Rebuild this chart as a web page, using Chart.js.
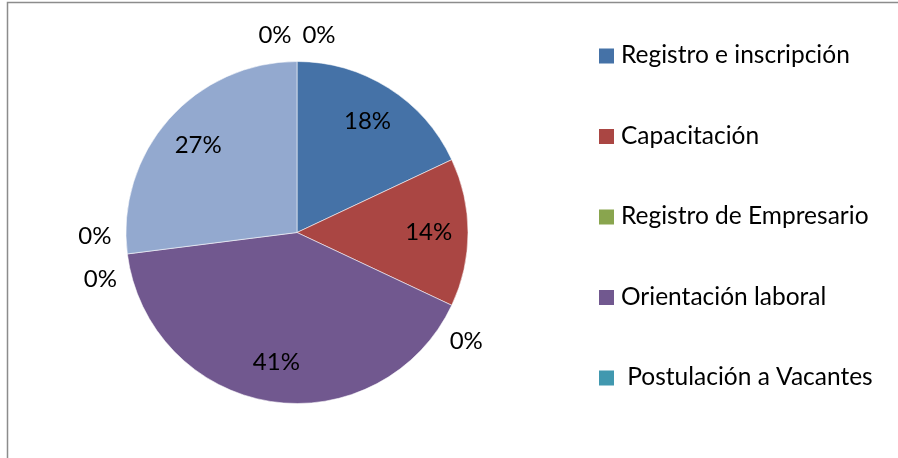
<!DOCTYPE html>
<html>
<head>
<meta charset="utf-8">
<script src="https://cdn.jsdelivr.net/npm/chart.js@4/dist/chart.umd.min.js"></script>
<style>
  html, body { margin: 0; padding: 0; background: #fff; }
  #wrap { position: relative; width: 898px; height: 458px; }
</style>
</head>
<body>
<div id="wrap"><canvas id="pie" width="898" height="458"></canvas></div>
<script>
// categories (only the first five show up in the legend of the original)
const categories = [
  "Registro e inscripción",
  "Capacitación",
  "Registro de Empresario",
  "Orientación laboral",
  " Postulación a Vacantes",
  "Categoría 6",
  "Categoría 7",
  "Categoría 8",
  "Categoría 9"
];
// percentages per category
const percents = [18, 14, 0, 41, 0, 0, 27, 0, 0];
const legendCount = 5;

// office 2007 palette
const sliceColors = ["#4572A7", "#AA4643", "#89A54E", "#71588F", "#4198AF", "#DB843D", "#93A9CF", "#D19392", "#B9CD96"];

const FONT = "24px Lato, 'Open Sans', sans-serif";
const LEGEND_FONT = "24.5px Lato, 'Open Sans', sans-serif";

// frame, legend and percentage labels
const decorations = {
  id: "decorations",
  beforeDraw(chart) {
    const ctx = chart.ctx;
    ctx.save();
    ctx.strokeStyle = "#8c8c8c";
    ctx.lineWidth = 1.5;
    ctx.beginPath();
    ctx.moveTo(7.5, 458);
    ctx.lineTo(7.5, 2.5);
    ctx.lineTo(898, 2.5);
    ctx.stroke();
    ctx.restore();
  },
  afterDraw(chart) {
    const ctx = chart.ctx;
    const arcs = chart.getDatasetMeta(0).data;
    ctx.save();
    ctx.font = FONT;
    ctx.fillStyle = "#000";
    ctx.textAlign = "center";
    ctx.textBaseline = "middle";

    // group zero slices that sit on the same angle so they don't overlap
    const groups = [];
    arcs.forEach((arc, i) => {
      const v = percents[i];
      const mid = (arc.startAngle + arc.endAngle) / 2;
      if (v > 0) {
        const r = arc.outerRadius * 0.77;
        ctx.fillText(v + "%", arc.x + Math.cos(mid) * r, arc.y + Math.sin(mid) * r);
      } else {
        const last = groups[groups.length - 1];
        if (last && Math.abs(last.angle - arc.startAngle) < 1e-6) last.items.push(i);
        else groups.push({ angle: arc.startAngle, items: [i], arc: arc });
      }
    });
    groups.forEach(g => {
      const arc = g.arc;
      const n = g.items.length;
      // lone labels get nudged a bit clockwise, away from the previous slice
      const a = n === 1 ? g.angle + 0.13 : g.angle;
      const r = arc.outerRadius + 30;
      const bx = arc.x + Math.cos(a) * r, by = arc.y + Math.sin(a) * r;
      const tx = -Math.sin(a), ty = Math.cos(a);
      g.items.forEach((idx, k) => {
        const off = (k - (n - 1) / 2) * 44;
        ctx.fillText(percents[idx] + "%", bx - tx * off, by - ty * off + (n > 1 && Math.abs(ty) < 0.2 ? 4 : 0));
      });
    });

    // legend
    ctx.textAlign = "left";
    ctx.font = LEGEND_FONT;
    for (let i = 0; i < legendCount; i++) {
      const cy = 55.5 + i * 80.5;
      ctx.fillStyle = sliceColors[i];
      ctx.fillRect(599, cy - 7, 15, 15);
      ctx.fillStyle = "#000";
      ctx.fillText(categories[i], 621, cy);
    }
    ctx.restore();
  }
};

new Chart(document.getElementById("pie"), {
  type: "pie",
  data: {
    labels: categories,
    datasets: [{
      data: percents,
      backgroundColor: sliceColors,
      borderColor: "rgba(255,255,255,0.55)",
      borderWidth: 1
    }]
  },
  options: {
    responsive: false,
    animation: false,
    layout: { padding: { left: 125, right: 429, top: 61, bottom: 54 } },
    plugins: {
      legend: { display: false },
      tooltip: { enabled: false }
    }
  },
  plugins: [decorations]
});
</script>
</body>
</html>
